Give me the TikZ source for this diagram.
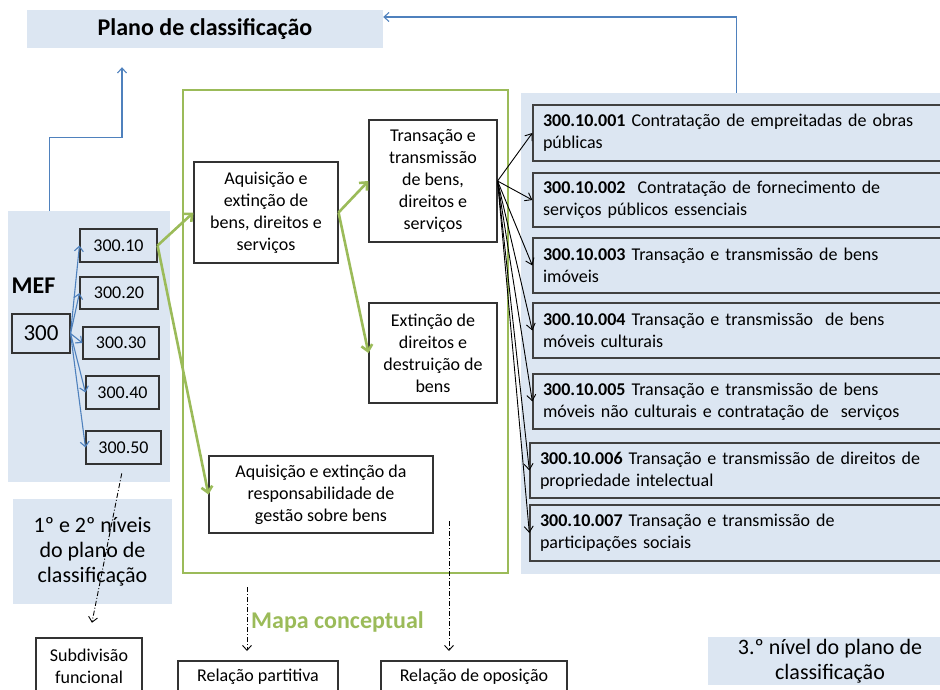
\documentclass[tikz,border=0pt]{standalone}
\usepackage{fontspec}
\setmainfont{Carlito}
\usetikzlibrary{arrows.meta}
\definecolor{panelblue}{RGB}{220,230,242}
\definecolor{arrowblue}{RGB}{79,129,189}
\definecolor{mapgreen}{RGB}{155,187,89}
\tikzset{
 base/.style={font=\fontsize{18}{22}\selectfont, inner sep=0pt, align=center},
 wbox/.style={base, draw=black!80, line width=1.1pt, fill=white},
 bbox/.style={base, draw=black!80, line width=1.1pt},
 rbox/.style={font=\fontsize{18}{22}\selectfont, draw=black!75, line width=1.3pt, fill=panelblue, inner ysep=0pt, inner xsep=10pt, align=left},
 panel/.style={fill=panelblue, inner sep=0pt, align=center},
 bluearr/.style={draw=arrowblue, line width=1.1pt, -{Straight Barb[length=5pt,width=9pt]}},
 greenarr/.style={draw=mapgreen, line width=2.6pt, -{Straight Barb[length=6pt,width=11pt]}},
 blackarr/.style={draw=black, line width=0.9pt, -{Straight Barb[length=6pt,width=9pt]}},
 ddarr/.style={draw=black, line width=0.9pt, dash pattern=on 5pt off 2pt on 1pt off 2pt, -{Straight Barb[length=5pt,width=9pt]}},
}
\begin{document}
\begin{tikzpicture}[x=1pt,y=-1pt]
\useasboundingbox (0,0) rectangle (940,690);
\clip (0,0) rectangle (940,690);
% panels
\node[panel, minimum width=356, minimum height=38, font=\bfseries\fontsize{24}{28}\selectfont] (title) at (205,29) {Plano de classificação};
\node[panel, minimum width=162, minimum height=271] (mefpanel) at (89,346.5) {};
\node[panel, minimum width=429, minimum height=481] (rpanel) at (735.5,333.5) {};
\node[panel, minimum width=159, minimum height=105, font=\fontsize{22}{25}\selectfont] (lvl12) at (92.5,551.5) {1º e 2º níveis\\do plano de\\classificação};
\node[panel, minimum width=244, minimum height=48, font=\fontsize{22}{25}\selectfont] (lvl3) at (830,661) {3.º nível do plano de\\classificação};
% MEF
\node[base, font=\bfseries\fontsize{24}{28}\selectfont] (mef) at (33.5,286) {MEF};
\node[bbox, minimum width=58, minimum height=39, font=\fontsize{23}{27}\selectfont] (n300) at (41,333.5) {300};
\node[bbox, minimum width=77, minimum height=33] (b10) at (118.5,245.5) {300.10};
\node[bbox, minimum width=78, minimum height=32] (b20) at (119,293) {300.20};
\node[bbox, minimum width=76, minimum height=32] (b30) at (121,343) {300.30};
\node[bbox, minimum width=73, minimum height=33] (b40) at (122.5,392.5) {300.40};
\node[bbox, minimum width=75, minimum height=33] (b50) at (123.5,447.5) {300.50};
% green map
\node[draw=mapgreen, line width=2.5pt, minimum width=325, minimum height=483, inner sep=0pt] (mapbox) at (345.5,331.5) {};
\node[wbox, minimum width=144, minimum height=101] (aq) at (266,212.5) {Aquisição e\\extinção de\\bens, direitos e\\serviços};
\node[wbox, minimum width=128, minimum height=122] (trans) at (433,181) {Transação e\\transmissão\\de bens,\\direitos e\\serviços};
\node[wbox, minimum width=128, minimum height=100] (ext) at (433,353) {Extinção de\\direitos e\\destruição de\\bens};
\node[wbox, minimum width=224, minimum height=77] (resp) at (321,494.5) {Aquisição e extinção da\\responsabilidade de\\gestão sobre bens};
\node[base, font=\bfseries\fontsize{24}{28}\selectfont, text=mapgreen] (mapa) at (337.5,622) {Mapa conceptual};
% right boxes
\node[rbox, text width=397, minimum height=56] (r1) at (741.5,133) {\textbf{300.10.001} Contratação de empreitadas de obras\\públicas};
\node[rbox, text width=397, minimum height=54] (r2) at (741.5,200) {\textbf{300.10.002}\ \ Contratação de fornecimento de\\serviços públicos essenciais};
\node[rbox, text width=397, minimum height=55] (r3) at (741.5,265.5) {\textbf{300.10.003} Transação e transmissão de bens\\imóveis};
\node[rbox, text width=397, minimum height=55] (r4) at (741.5,330.5) {\textbf{300.10.004} Transação e transmissão\ \ de bens\\móveis culturais};
\node[rbox, text width=397, minimum height=55] (r5) at (741.5,401.5) {\textbf{300.10.005} Transação e transmissão de bens\\móveis não culturais e contratação de\ \ serviços};
\node[rbox, text width=400, minimum height=55] (r6) at (740,470.5) {\textbf{300.10.006} Transação e transmissão de direitos de\\propriedade intelectual};
\node[rbox, text width=400, minimum height=56] (r7) at (740,533) {\textbf{300.10.007} Transação e transmissão de\\participações sociais};
% bottom boxes
\node[wbox, minimum width=106, minimum height=57] (subdiv) at (89,666.5) {Subdivisão\\funcional};
\node[wbox, minimum width=160, minimum height=32] (relp) at (258,677) {Relação partitiva};
\node[wbox, minimum width=186, minimum height=32] (relo) at (474,677) {Relação de oposição};
% blue connectors
\draw[bluearr, shorten >=19pt] ([xshift=42pt]mefpanel.north west) -- ++(0,-73) -| ([xshift=-83pt]title.south);
\draw[bluearr] ([xshift=216pt]rpanel.north west) |- ([yshift=12pt]title.east);
\foreach \b in {b10,b20,b30,b40,b50} \draw[bluearr] (n300.east) -- (\b.west);
% green connectors
\draw[greenarr] (b10.east) -- (aq.west);
\draw[greenarr] (b10.east) -- (resp.west);
\draw[greenarr] (aq.east) -- (trans.west);
\draw[greenarr] (aq.east) -- (ext.west);
% black connectors
\foreach \r in {r1,r2,r3,r4,r5,r6,r7} \draw[blackarr] (trans.east) -- (\r.west);
% dash-dot connectors
\draw[ddarr, shorten <=9pt, shorten >=15pt] (b50.south) -- (subdiv.north);
\coordinate (d2s) at (247,587);
\coordinate (d2e) at (247,651);
\draw[ddarr] (d2s) -- (d2e);
\coordinate (d3s) at (449,521);
\coordinate (d3e) at (449,651);
\draw[ddarr] (d3s) -- (d3e);
\end{tikzpicture}
\end{document}
